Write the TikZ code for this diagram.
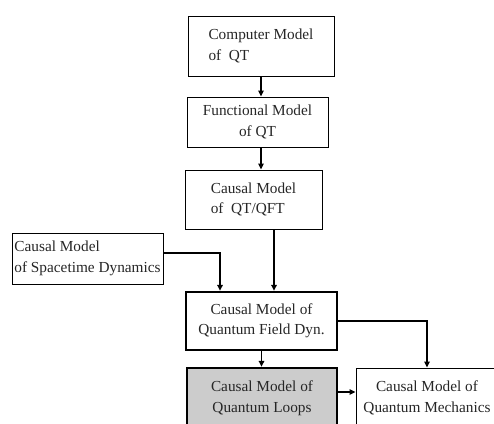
\documentclass[tikz,border=0pt]{standalone}
\usepackage{fontspec}
\setmainfont{Liberation Serif}
\usetikzlibrary{arrows.meta}
\begin{document}
\begin{tikzpicture}[x=1pt,y=-1pt,
  box/.style={draw=black,line width=1pt,fill=white,inner sep=0pt,
    font=\fontsize{15.3}{20.5}\selectfont,text=black!85},
  thickbox/.style={box,line width=2.4pt},
  arr/.style={line width=1.8pt,-{Triangle[length=6pt,width=5.5pt]}}]
\useasboundingbox (0,0) rectangle (494,423);
\clip (0,0) rectangle (494,423);
\fill[white] (0,0) rectangle (494,423);
\node[box,minimum width=146pt,minimum height=60pt,align=left] (b1) at (261,46)
  {Computer Model\\of\ \ QT};
\node[box,minimum width=141pt,minimum height=50pt,align=center] (b2) at (257.5,122)
  {Functional Model\\of QT};
\node[box,minimum width=137pt,minimum height=59pt,align=left] (b3) at (253.5,199.5)
  {Causal Model\\of\ \ QT/QFT};
\node[box,minimum width=151pt,minimum height=51pt,align=left] (b4) at (87.5,258.5)
  {Causal Model\\of Spacetime Dynamics};
\node[thickbox,minimum width=151pt,minimum height=58pt,align=center] (b5) at (261.5,321)
  {Causal Model of\\Quantum Field Dyn.};
\node[thickbox,fill=black!20,minimum width=150pt,minimum height=60pt,align=center] (b6) at (262,398)
  {Causal Model of\\Quantum Loops};
\node[box,minimum width=142pt,minimum height=60pt,align=center] (b7) at (427,398)
  {Causal Model of\\Quantum Mechanics};
\draw[arr] (b1.south) -- (b1.south |- b2.north);
\draw[arr] (b2.south -| b1.south) -- (b1.south |- b3.north);
\draw[arr] ([yshift=5.5pt]b4.east) -| ([xshift=-41.5pt]b5.north);
\draw[arr] ([xshift=12.5pt]b5.north |- b3.south) -- ([xshift=12.5pt]b5.north);
\draw[arr] (b5.east) -| (b7.north);
\draw[arr] (b5.south) -- (b5.south |- b6.north);
\draw[arr] ([yshift=6pt]b6.east) -- ([yshift=6pt]b7.west);
\end{tikzpicture}
\end{document}
